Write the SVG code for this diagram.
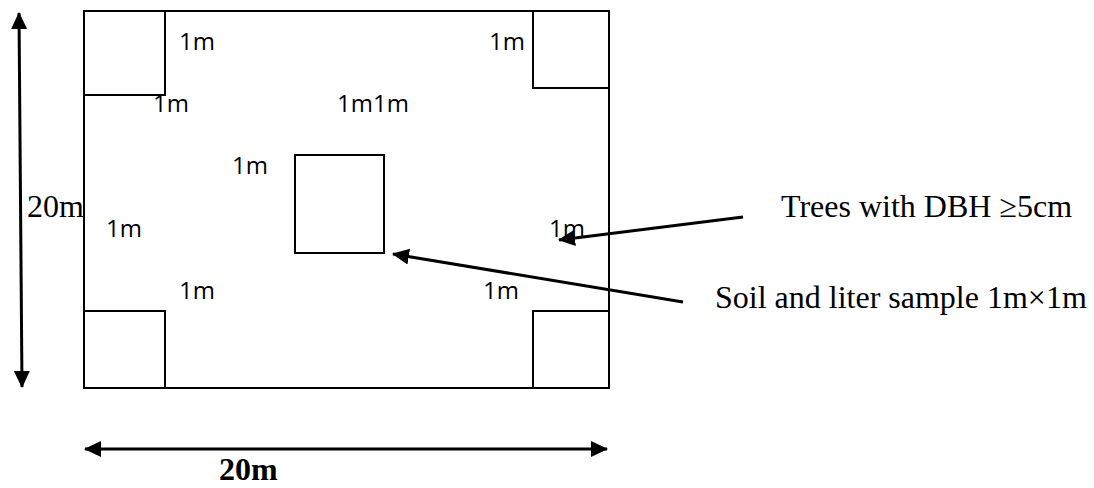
<svg xmlns="http://www.w3.org/2000/svg" width="1094" height="488" viewBox="0 0 1094 488">
<style>
.box{fill:none;stroke:#000;stroke-width:2}
.lab{font-family:"Open Sans","Liberation Sans",sans-serif;font-size:24px;fill:#000}
.ser{font-family:"Liberation Serif","Times New Roman",serif;font-size:32px;fill:#000}
.con{stroke:#000;stroke-width:3;fill:none}
</style>
<defs>
<marker id="ah" markerUnits="userSpaceOnUse" markerWidth="18" markerHeight="18" viewBox="0 0 18 18" refX="16" refY="9" orient="auto-start-reverse">
<path d="M0,1 L17,9 L0,17 Z" fill="#000"/>
</marker>
</defs>
<rect width="1094" height="488" fill="#fff"/>
<g id="plot">
<rect class="box" x="84" y="11" width="525" height="377"/>
</g>
<g id="sq-tl"><rect class="box" x="84" y="11" width="81" height="84"/></g>
<g id="sq-tr"><rect class="box" x="533" y="11" width="76" height="77"/></g>
<g id="sq-bl"><rect class="box" x="84" y="311" width="81" height="77"/></g>
<g id="sq-br"><rect class="box" x="533" y="311" width="76" height="77"/></g>
<g id="sq-center"><rect class="box" x="295" y="155" width="89" height="98"/></g>
<g id="labels">
<text class="lab" x="179" y="50">1m</text>
<text class="lab" x="153" y="112">1m</text>
<text class="lab" x="489" y="50">1m</text>
<text class="lab" x="337" y="112">1m1m</text>
<text class="lab" x="232" y="174">1m</text>
<text class="lab" x="106" y="237">1m</text>
<text class="lab" x="549" y="237">1m</text>
<text class="lab" x="179" y="299">1m</text>
<text class="lab" x="483" y="299">1m</text>
<text class="ser" x="27" y="217">20m</text>
<text class="ser" x="219" y="480" font-weight="bold" font-size="30">20m</text>
</g>
<g id="note-trees"><text class="ser" x="781" y="217">Trees with DBH ≥5cm</text></g>
<g id="note-soil"><text class="ser" x="715" y="308">Soil and liter sample 1m×1m</text></g>
<g id="connectors">
<line class="con" x1="19" y1="13" x2="22" y2="387" marker-start="url(#ah)" marker-end="url(#ah)" stroke-width="2.5"/>
<line class="con" x1="85" y1="449" x2="607" y2="449" marker-start="url(#ah)" marker-end="url(#ah)"/>
<line class="con" x1="743" y1="217" x2="559" y2="240" marker-end="url(#ah)"/>
<line class="con" x1="683" y1="302" x2="393" y2="254" marker-end="url(#ah)"/>
</g>
</svg>
